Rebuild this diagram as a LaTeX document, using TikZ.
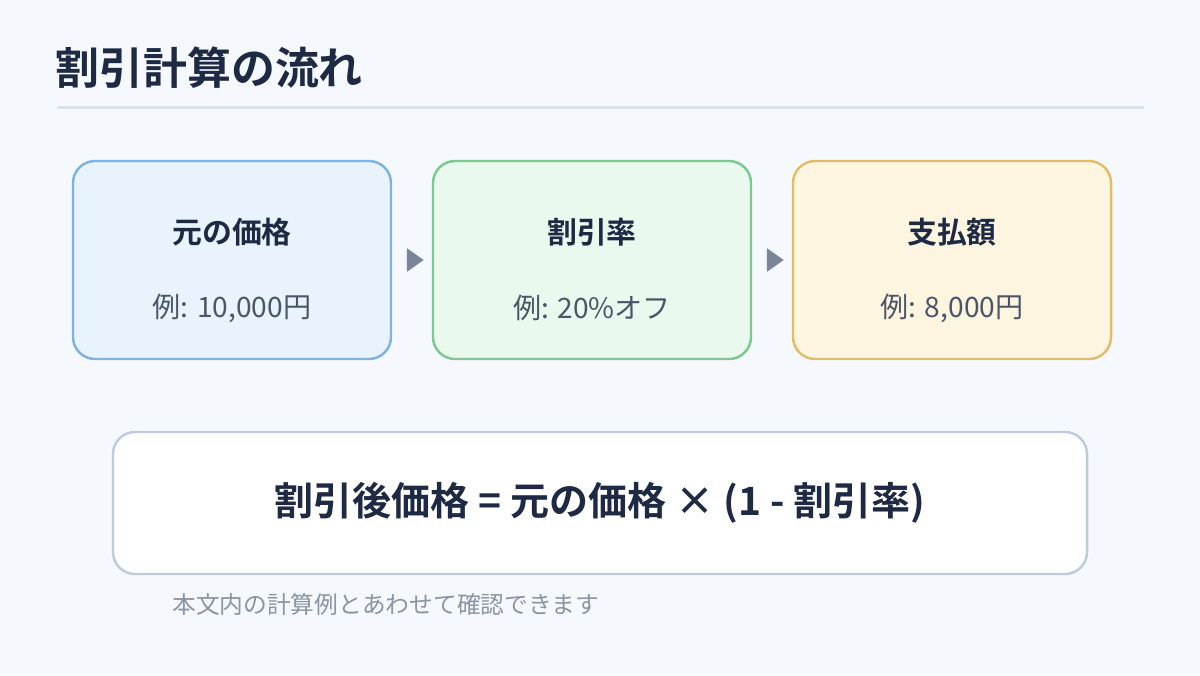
\documentclass[tikz,border=0pt]{standalone}
\usepackage{fontspec}
\setmainfont{Noto Sans CJK JP}[BoldFont={Noto Sans CJK JP Bold}]
\usepackage{xcolor}
\usetikzlibrary{arrows.meta,positioning}
\definecolor{dcink}{HTML}{1E2A44}
\definecolor{dcgray}{HTML}{4A5568}
\definecolor{dcnote}{HTML}{8A94A3}
\definecolor{dcarrow}{HTML}{7A8599}
\definecolor{dcbg}{HTML}{F5F9FD}
\definecolor{dcrule}{HTML}{D6E2EC}
\definecolor{dcblue}{HTML}{7EB3E3}
\definecolor{dcbluefill}{HTML}{E8F3FE}
\definecolor{dcgreen}{HTML}{7DC98F}
\definecolor{dcgreenfill}{HTML}{EAF9EE}
\definecolor{dcorange}{HTML}{E3BC6A}
\definecolor{dcorangefill}{HTML}{FEF5E0}
\definecolor{dcframe}{HTML}{BCCCDD}
\tikzset{
  stepbox/.style={draw,line width=1.4pt,rounded corners=0.44cm,minimum width=6.36cm,minimum height=3.96cm},
  boxhead/.style={font=\fontsize{17}{20}\selectfont\bfseries,text=dcink},
  boxsub/.style={font=\fontsize{16}{19}\selectfont,text=dcgray},
  flow/.style={dcarrow,line width=1.7pt,-{Triangle[length=0.34cm,width=0.46cm]},shorten <=0.3cm,shorten >=0.16cm}
}
\begin{document}
\begin{tikzpicture}
    \fill[dcbg] (0,0) rectangle (24,-13.5);
    \useasboundingbox (0,0) rectangle (24,-13.5);
    % title
    \node[anchor=west,inner sep=0,font=\fontsize{25}{30}\selectfont\bfseries,text=dcink] (title) at (1.1,-1.36) {割引計算の流れ};
    \draw[dcrule,line width=1.7pt] (1.14,-2.14) -- (22.88,-2.14);
    % steps
    \node[stepbox,draw=dcblue,fill=dcbluefill] (orig) at (4.64,-5.2) {};
    \node[stepbox,draw=dcgreen,fill=dcgreenfill] (rate) at (11.84,-5.2) {};
    \node[stepbox,draw=dcorange,fill=dcorangefill] (pay) at (19.04,-5.2) {};
    \node[boxhead] (orighead) at (4.64,-4.64) {元の価格};
    \node[boxsub] (origsub) at (4.64,-6.16) {例: 10,000円};
    \node[boxhead] (ratehead) at (11.84,-4.64) {割引率};
    \node[boxsub] (ratesub) at (11.84,-6.16) {例: 20\%オフ};
    \node[boxhead] (payhead) at (19.04,-4.64) {支払額};
    \node[boxsub] (paysub) at (19.04,-6.16) {例: 8,000円};
    \draw[flow] (orig) -- (rate);
    \draw[flow] (rate) -- (pay);
    % formula
    \node[draw=dcframe,fill=white,line width=1.4pt,rounded corners=0.44cm,minimum width=19.48cm,minimum height=2.84cm,
      font=\fontsize{22.2}{26}\selectfont\bfseries,text=dcink] (formula) at (12,-10.06) {割引後価格 = 元の価格 × (1 - 割引率)};
    \node[anchor=west,inner sep=0,font=\fontsize{13.5}{16}\selectfont,text=dcnote] (note) at (3.44,-12.08) {本文内の計算例とあわせて確認できます};
  \end{tikzpicture}
\end{document}
